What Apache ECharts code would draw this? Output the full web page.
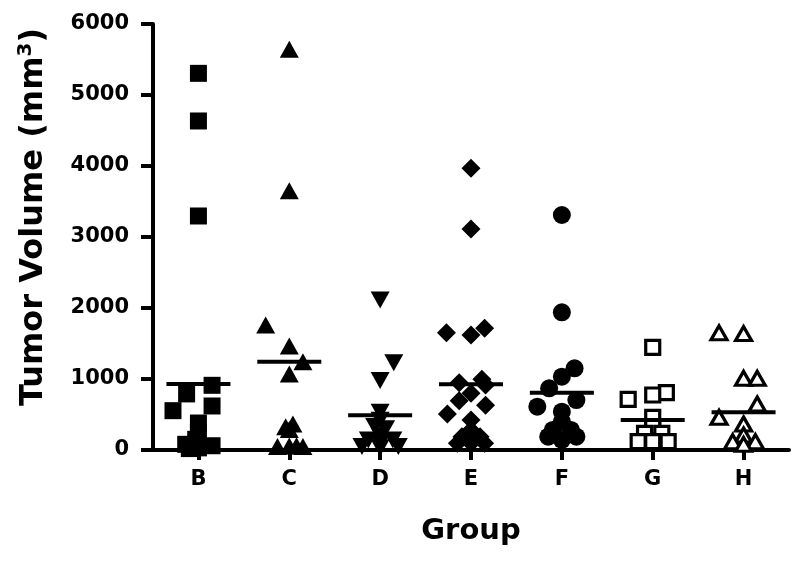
<!DOCTYPE html>
<html>
<head>
<meta charset="utf-8">
<script src="https://cdn.jsdelivr.net/npm/echarts@6/dist/echarts.min.js"></script>
<style>
  html, body { margin: 0; padding: 0; background: #fff; }
  #main { width: 800px; height: 564px; }
</style>
</head>
<body>
<div id="main"></div>
<script>
// groups on the x axis
const groups = ['B', 'C', 'D', 'E', 'F', 'G', 'H'];
// each point: [horizontal scatter offset (category units), tumor volume]
const groupB = [[0, 5305], [0, 4634], [0, 3296], [0.15, 911], [-0.13, 790], [0.15, 620], [-0.28, 554],
  [0, 380], [0, 250], [-0.03, 150], [-0.14, 80], [0.15, 60], [0, 30], [-0.1, 20]];
const groupC = [[0, 5643], [0, 3652], [-0.26, 1760], [0, 1465], [0.15, 1244], [0, 1070], [0.04, 366],
  [-0.04, 328], [0, 290], [-0.13, 50], [0, 55], [0.08, 60], [0.15, 50]];
const groupD = [[0, 2113], [0.15, 1230], [0, 980], [0, 530], [0, 420], [-0.06, 330], [0.06, 300],
  [0, 200], [-0.13, 140], [0.14, 140], [0, 100], [-0.2, 50], [0.2, 50], [0, 30]];
const groupE = [[0, 3967], [0, 3113], [0.15, 1714], [-0.27, 1652], [0, 1620], [0.12, 996], [-0.13, 948],
  [0.16, 915], [0, 798], [-0.13, 695], [0.16, 629], [-0.26, 507], [0, 423], [0, 282], [-0.1, 188],
  [0.1, 188], [-0.15, 94], [0.15, 94], [0, 94]];
const groupF = [[0, 3310], [0, 1939], [0.14, 1150], [0, 1033], [-0.14, 869], [0.16, 704], [-0.27, 610],
  [0, 540], [0, 399], [-0.1, 282], [0.1, 282], [-0.15, 188], [0.16, 188], [0, 141]];
const groupG = [[0, 1446], [0.15, 808], [0, 775], [-0.27, 714], [0, 460], [0, 329], [-0.09, 235],
  [0.1, 235], [-0.16, 117], [0.17, 117], [0, 117]];
const groupH = [[-0.27, 1650], [0, 1640], [0, 1009], [0.15, 1009], [0.15, 648], [-0.27, 460], [0, 366],
  [0, 211], [-0.12, 117], [0.13, 117], [0, 80]];
// group means (horizontal bars)
const means = [930, 1244, 488, 925, 808, 423, 531];
const yTicks = [0, 1000, 2000, 3000, 4000, 5000, 6000];

const allGroups = [groupB, groupC, groupD, groupE, groupF, groupG, groupH];

// marker look per group
const markers = [
  { symbol: 'rect', size: 17, rotate: 0, open: false },
  { symbol: 'triangle', size: [19, 17], rotate: 0, open: false },
  { symbol: 'triangle', size: [19, 17], rotate: 180, open: false },
  { symbol: 'diamond', size: 19, rotate: 0, open: false },
  { symbol: 'circle', size: 18, rotate: 0, open: false },
  { symbol: 'rect', size: 14, rotate: 0, open: true },
  { symbol: 'triangle', size: [16, 14], rotate: 0, open: true }
];

const font = '"DejaVu Sans", Verdana, sans-serif';

const series = allGroups.map((pts, i) => {
  const m = markers[i];
  return {
    name: groups[i],
    type: 'scatter',
    xAxisIndex: 1,
    symbol: m.symbol,
    symbolSize: m.size,
    symbolRotate: m.rotate,
    itemStyle: m.open
      ? { color: '#fff', borderColor: '#000', borderWidth: 3.2, opacity: 1 }
      : { color: '#000', opacity: 1 },
    data: pts.map(p => [i + 1 + p[0], p[1]]),
    z: 3
  };
});

series.push({
  name: 'mean',
  type: 'scatter',
  xAxisIndex: 1,
  symbol: 'rect',
  symbolSize: [64, 4],
  itemStyle: { color: '#000', opacity: 1 },
  data: means.map((v, i) => [i + 1, v]),
  z: 4
});

const chart = echarts.init(document.getElementById('main'));
chart.setOption({
  backgroundColor: '#fff',
  animation: false,
  grid: { left: 153, right: 11, top: 24, bottom: 114, containLabel: false },
  xAxis: [
    {
      type: 'category',
      data: groups,
      boundaryGap: true,
      name: 'Group',
      nameLocation: 'middle',
      nameGap: 67,
      nameTextStyle: { fontFamily: font, fontWeight: 'bold', fontSize: 29, color: '#000' },
      axisLine: { show: true, onZero: false, lineStyle: { color: '#000', width: 4 } },
      axisTick: { show: true, alignWithLabel: true, length: 10, lineStyle: { color: '#000', width: 4 } },
      axisLabel: { margin: 19, fontFamily: font, fontWeight: 'bold', fontSize: 21, color: '#000' },
      splitLine: { show: false }
    },
    {
      type: 'value',
      min: 0.5,
      max: 7.5,
      show: false,
      splitLine: { show: false }
    }
  ],
  yAxis: {
    type: 'value',
    min: yTicks[0],
    max: yTicks[yTicks.length - 1],
    interval: 1000,
    name: 'Tumor Volume (mm{sup|3})',
    nameLocation: 'middle',
    nameGap: 101,
    nameTextStyle: {
      fontFamily: font, fontWeight: 'bold', fontSize: 32, color: '#000',
      padding: [0, 0, 0, 40],
      rich: {
        sup: { fontFamily: font, fontWeight: 'bold', fontSize: 20, color: '#000', padding: [0, 0, 16, 0] }
      }
    },
    axisLine: { show: true, lineStyle: { color: '#000', width: 4 } },
    axisTick: { show: true, length: 12, lineStyle: { color: '#000', width: 4 } },
    axisLabel: {
      margin: 24, fontFamily: font, fontWeight: 'bold', fontSize: 21, color: '#000',
      formatter: v => String(v)
    },
    splitLine: { show: false }
  },
  series: series
});
</script>
</body>
</html>
